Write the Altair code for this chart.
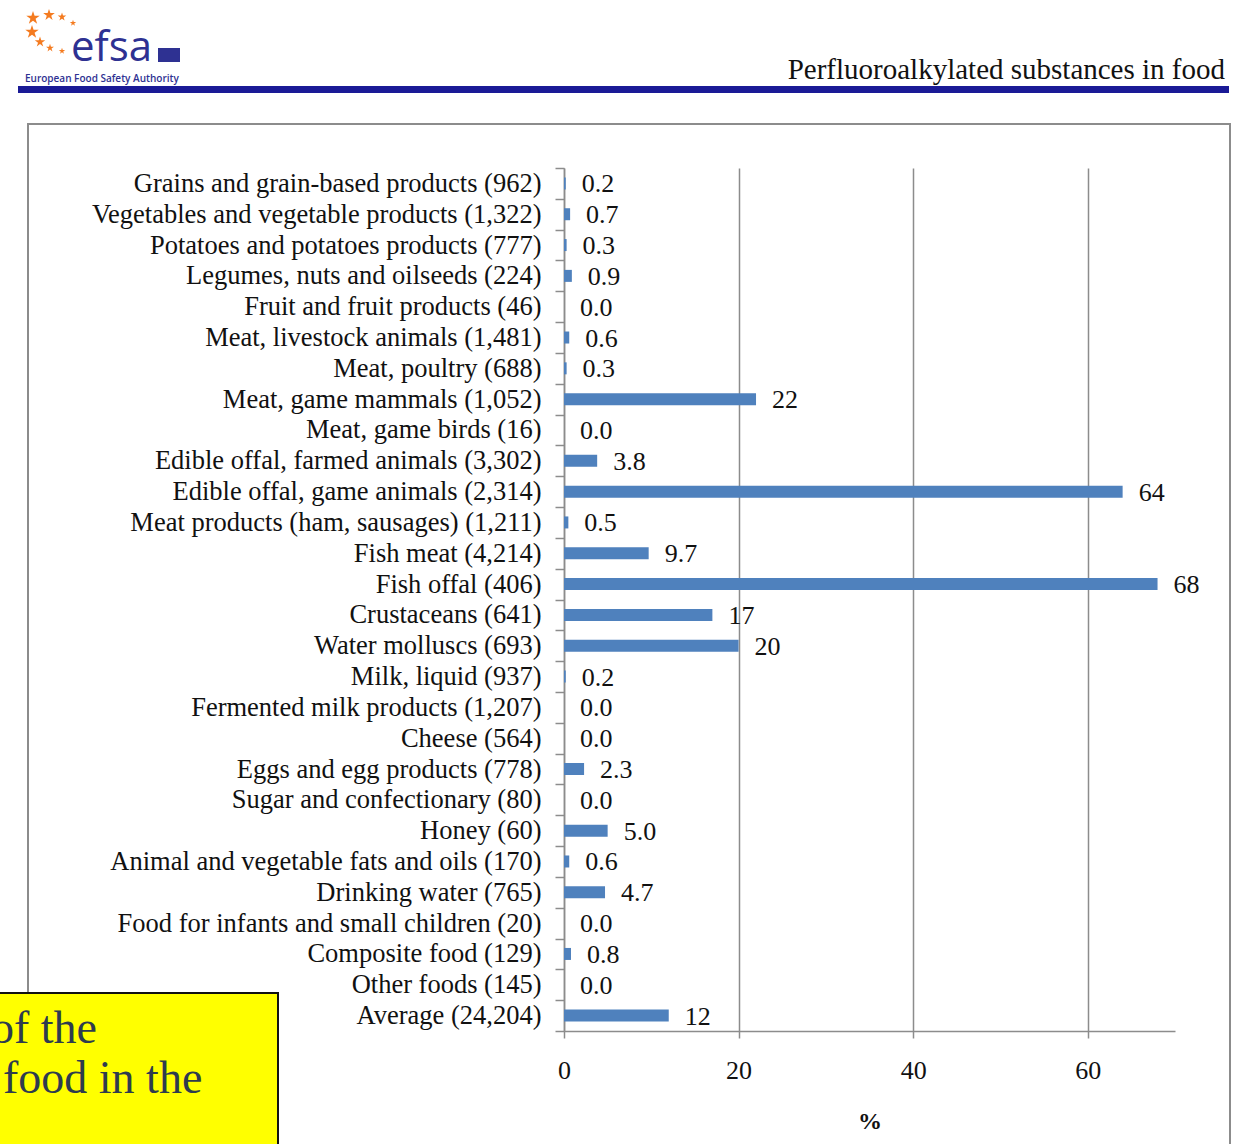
import altair as alt
import pandas as pd

# Share of quantified results (%) per food group, with number of samples
food_groups = [
    "Grains and grain-based products",
    "Vegetables and vegetable products",
    "Potatoes and potatoes products",
    "Legumes, nuts and oilseeds",
    "Fruit and fruit products",
    "Meat, livestock animals",
    "Meat, poultry ",
    "Meat, game mammals",
    "Meat, game birds",
    "Edible offal, farmed animals",
    "Edible offal, game animals",
    "Meat products (ham, sausages)",
    "Fish meat",
    "Fish offal",
    "Crustaceans",
    "Water molluscs",
    "Milk, liquid",
    "Fermented milk products",
    "Cheese",
    "Eggs and egg products",
    "Sugar and confectionary",
    "Honey",
    "Animal and vegetable fats and oils",
    "Drinking water ",
    "Food for infants and small children",
    "Composite food",
    "Other foods",
    "Average",
]
n_samples = [962, 1322, 777, 224, 46, 1481, 688, 1052, 16, 3302, 2314, 1211,
             4214, 406, 641, 693, 937, 1207, 564, 778, 80, 60, 170, 765, 20,
             129, 145, 24204]
pct_quantified = [0.2, 0.7, 0.3, 0.9, 0.0, 0.6, 0.3, 22, 0.0, 3.8, 64, 0.5,
                  9.7, 68, 17, 20, 0.2, 0.0, 0.0, 2.3, 0.0, 5.0, 0.6, 4.7, 0.0,
                  0.8, 0.0, 12]
x_ticks = [0, 20, 40, 60]

labels = [f"{g} ({n:,})" for g, n in zip(food_groups, n_samples)]
bars_df = pd.DataFrame({"label": labels, "pct": pct_quantified})

# Logo star positions (page pixels) and sizes
star_x = [33, 49, 62, 73, 32, 40, 50, 62]
star_y = [18, 15, 17, 23, 32, 42, 48, 51]
star_s = [200, 150, 80, 45, 200, 120, 70, 45]

SERIF = "Liberation Serif"
SANS = "Open Sans"
GRID = "#8c8c8c"
BAR = "#4f81bd"
EFSA_BLUE = "#2e3192"
INK = "#111111"

PLOT_W, PLOT_H = 611, 863
OX, OY = 564, 168  # page position of the plot origin
one = pd.DataFrame({"k": [0]})


def px(x):
    return alt.value(x - OX)


def py(y):
    return alt.value(y - OY)


# Page frame around the figure
frame = alt.Chart(one).mark_rect(
    fill="transparent", stroke=GRID, strokeWidth=2
).encode(x=px(28), x2=px(1230), y=py(124), y2=py(1160))

# Running header
rule = alt.Chart(one).mark_rect(color="#1a1a96").encode(
    x=px(18), x2=px(1229), y=py(86), y2=py(93)
)
header = alt.Chart(one).mark_text(
    text="Perfluoroalkylated substances in food", font=SERIF, fontSize=29,
    align="right", baseline="alphabetic", color=INK
).encode(x=px(1225), y=py(79))

logo_word = alt.Chart(one).mark_text(
    text="efsa", font=SANS, fontSize=42, fontWeight=500, align="left",
    baseline="alphabetic", color=EFSA_BLUE
).encode(x=px(71), y=py(61))
logo_flag = alt.Chart(one).mark_rect(color=EFSA_BLUE).encode(
    x=px(158), x2=px(180), y=py(48), y2=py(62)
)
logo_sub = alt.Chart(one).mark_text(
    text="European Food Safety Authority", font=SANS, fontSize=10,
    fontWeight=600, align="left", baseline="alphabetic", color=EFSA_BLUE
).encode(x=px(25), y=py(82))

STAR = ("M0,-1L0.2245,-0.309L0.951,-0.309L0.363,0.118L0.588,0.809L0,0.382"
        "L-0.588,0.809L-0.363,0.118L-0.951,-0.309L-0.2245,-0.309Z")
stars = [
    alt.Chart(one).mark_point(
        shape=STAR, filled=True, color="#f47b20", opacity=1, size=s
    ).encode(x=px(x), y=py(y))
    for x, y, s in zip(star_x, star_y, star_s)
]

# Bar chart
base = alt.Chart(bars_df).encode(
    y=alt.Y(
        "label:N", sort=labels,
        scale=alt.Scale(paddingInner=0, paddingOuter=0),
        axis=alt.Axis(
            title=None, tickBand="extent", tickSize=9, tickColor=GRID,
            tickWidth=1.5, domainColor=GRID, domainWidth=1.5,
            labelFont=SERIF, labelFontSize=26.5, labelColor=INK,
            labelPadding=14, labelLimit=0, grid=False,
        ),
    ),
)
bars = base.mark_bar(size=12, color=BAR).encode(
    x=alt.X(
        "pct:Q", scale=alt.Scale(domain=[0, 70], nice=False, zero=True),
        axis=alt.Axis(
            values=x_ticks, title="%", grid=True, gridColor=GRID,
            gridWidth=1.5, tickSize=7, tickColor=GRID, tickWidth=1.5,
            domainColor=GRID, domainWidth=1.5, labelFont=SERIF,
            labelFontSize=26, labelColor=INK, labelPadding=19,
            labelFlush=False,
            titleFont=SERIF, titleFontSize=24, titleFontWeight="bold",
            titleColor=INK, titlePadding=26,
        ),
    )
)
values = base.transform_calculate(
    txt="datum.pct >= 10 ? format(datum.pct, '.0f') : format(datum.pct, '.1f')"
).mark_text(
    align="left", baseline="middle", dx=16, dy=1, font=SERIF, fontSize=26,
    color=INK
).encode(x="pct:Q", text="txt:N")

# Highlight box over the lower-left corner
note_box = alt.Chart(one).mark_rect(
    fill="#ffff00", stroke=INK, strokeWidth=2
).encode(x=px(-6), x2=px(278), y=py(993), y2=py(1160))
note_1 = alt.Chart(one).mark_text(
    text="of the", font=SERIF, fontSize=46, align="left",
    baseline="alphabetic", color="#2e3b4e"
).encode(x=px(-9), y=py(1043))
note_2 = alt.Chart(one).mark_text(
    text="food in the", font=SERIF, fontSize=46, align="left",
    baseline="alphabetic", color="#2e3b4e"
).encode(x=px(3), y=py(1093))

chart = alt.layer(
    frame, rule, header, *stars, logo_word, logo_flag, logo_sub,
    bars, values, note_box, note_1, note_2,
).properties(
    width=PLOT_W, height=PLOT_H,
    autosize=alt.AutoSizeParams(type="none"),
    padding={"left": OX, "top": OY, "right": 1242 - OX - PLOT_W,
             "bottom": 1144 - OY - PLOT_H},
    background="white",
).configure_view(stroke=None)

chart.save("out.html", embed_options={"renderer": "svg", "actions": False})
